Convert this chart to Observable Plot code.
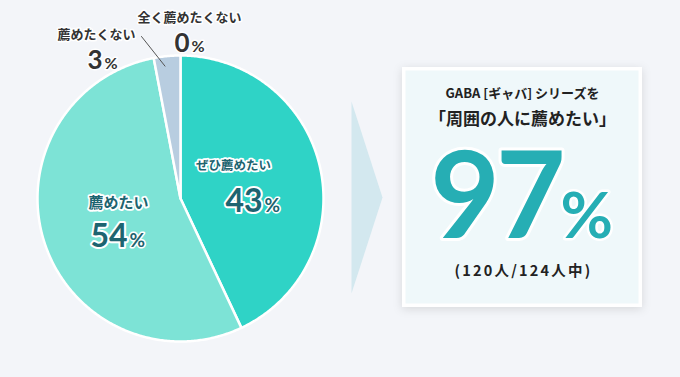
<!DOCTYPE html>
<html><head><meta charset="utf-8">
<script src="https://cdn.jsdelivr.net/npm/d3@7"></script>
<script src="https://cdn.jsdelivr.net/npm/@observablehq/plot@0.6"></script>
<style>
html,body{margin:0;padding:0;background:#f3f5f9;}
#chart svg{display:block;}
.spaced text{letter-spacing:2.2px;}
.tight text{letter-spacing:-4px;}
</style></head><body><div id="chart"></div>
<script>
// ---- data ----
const categories = ["ぜひ薦めたい", "薦めたい", "薦めたくない", "全く薦めたくない"];
const values = [43, 54, 3, 0];
const summaryLead = "GABA [ギャバ] シリーズを";
const summaryTitle = "「周囲の人に薦めたい」";
const summaryValue = 97;
const recommenders = 120;
const respondents = 124;

// ---- layout / style ----
const W = 680, H = 377;
const cx = 180, cy = 198, R = 143;
const sliceColors = ["#2fd3c6", "#7de3d6", "#b8cde0", "#b8cde0"];
const labelLayout = [
  {nx: 233, ny: 165, fs: 12.5, px: 262, py: 211, inside: true},
  {nx: 118, ny: 203, fs: 15,   px: 127, py: 246, inside: true},
  {nx: 96,  ny: 34,  fs: 13,   px: 102, py: 68,  inside: false},
  {nx: 189, ny: 17,  fs: 13,   px: 189, py: 51,  inside: false}
];
const numFont = "Lato, 'Noto Sans', sans-serif";
const jpFont = "'Noto Sans CJK JP', sans-serif";

const arcs = d3.pie().sort(null).value(d => d)(values);
const slicePts = [];
arcs.forEach((a, i) => {
  if (a.endAngle - a.startAngle <= 0) return;
  slicePts.push({i, x: cx, y: cy});
  const n = Math.max(2, Math.ceil((a.endAngle - a.startAngle) / 0.01));
  for (let k = 0; k <= n; k++) {
    const t = a.startAngle + (a.endAngle - a.startAngle) * k / n;
    slicePts.push({i, x: cx + R * Math.sin(t), y: cy - R * Math.cos(t)});
  }
  slicePts.push({i, x: cx, y: cy});
});

const labels = categories.map((c, i) => ({
  name: c, value: values[i], ...labelLayout[i],
  col: labelLayout[i].inside ? "#1d6470" : "#333333"
}));

const small = arcs[2];
const mid = (small.startAngle + small.endAngle) / 2;
const leader = [
  {x: cx + 0.93 * R * Math.sin(mid) - 3, y: cy - 0.93 * R * Math.cos(mid)},
  {x: 141, y: 36}
];

const box = {x1: 402, y1: 67, x2: 642, y2: 307};
const arrow = [{x: 351, y: 101}, {x: 382, y: 197}, {x: 351, y: 293}, {x: 351, y: 101}];

const marks = [
  Plot.line(arrow, {x: "x", y: "y", fill: "#d3e8ef", stroke: "none"}),
  Plot.rect([box], {x1: "x1", x2: "x2", y1: "y1", y2: "y2", fill: "#ffffff", className: "shadowbox"}),
  Plot.rect([box], {x1: d => d.x1 + 3.5, x2: d => d.x2 - 3.5, y1: d => d.y1 + 3.5, y2: d => d.y2 - 3.5, fill: "#eff8fa"}),
];
arcs.forEach((a, i) => {
  const pts = slicePts.filter(p => p.i === i);
  if (pts.length) marks.push(Plot.line(pts, {x: "x", y: "y", fill: sliceColors[i], stroke: "#ffffff", strokeWidth: 2.5, strokeLinejoin: "round"}));
});
marks.push(
  Plot.line(leader, {x: "x", y: "y", stroke: "#555", strokeWidth: 1}),
  Plot.text(labels.filter(d => d.inside), {x: "nx", y: "ny", text: "name", fill: "col", fontSize: "fs", fontWeight: 700, fontFamily: jpFont, stroke: "white", strokeWidth: 3.5}),
  Plot.text(labels.filter(d => !d.inside), {x: "nx", y: "ny", text: "name", fill: "col", fontSize: "fs", fontWeight: 700, fontFamily: jpFont, stroke: "white", strokeWidth: 3}),
  Plot.text(labels.filter(d => d.inside), {x: "px", y: "py", text: d => String(d.value), textAnchor: "end", lineAnchor: "bottom", fill: "col", fontSize: 32, fontWeight: 700, fontFamily: numFont, stroke: "white", strokeWidth: 4}),
  Plot.text(labels.filter(d => d.inside), {x: d => d.px + 2, y: "py", text: d => "%", textAnchor: "start", lineAnchor: "bottom", fill: "col", fontSize: 19, fontWeight: 700, fontFamily: numFont, stroke: "white", strokeWidth: 3}),
  Plot.text(labels.filter(d => !d.inside), {x: "px", y: "py", text: d => String(d.value), textAnchor: "end", lineAnchor: "bottom", fill: "col", fontSize: 26, fontWeight: 700, fontFamily: numFont, stroke: "white", strokeWidth: 3}),
  Plot.text(labels.filter(d => !d.inside), {x: d => d.px + 2, y: "py", text: d => "%", textAnchor: "start", lineAnchor: "bottom", fill: "col", fontSize: 16, fontWeight: 700, fontFamily: numFont, stroke: "white", strokeWidth: 3}),
  Plot.text([summaryLead], {x: 522, y: 93, text: d => d, fill: "#222", fontSize: 13, fontWeight: 600, fontFamily: jpFont}),
  Plot.text([summaryTitle], {x: 522, y: 119, text: d => d, fill: "#222", fontSize: 17, fontWeight: 700, fontFamily: jpFont}),
  Plot.text([summaryValue], {x: 561, y: 237, text: d => String(d), textAnchor: "end", lineAnchor: "bottom", fill: "#26aeb4", fontSize: 120, fontWeight: 700, fontFamily: numFont, stroke: "white", strokeWidth: 6, className: "tight"}),
  Plot.text([summaryValue], {x: 560, y: 237, text: d => "%", textAnchor: "start", lineAnchor: "bottom", fill: "#26aeb4", fontSize: 64, fontWeight: 700, fontFamily: numFont, stroke: "white", strokeWidth: 5}),
  Plot.text([[recommenders, respondents]], {x: 523, y: 271, text: d => `(${d[0]}人/${d[1]}人中)`, fill: "#222", fontSize: 14.5, fontWeight: 700, fontFamily: jpFont, className: "spaced"})
);

const chart = Plot.plot({
  width: W, height: H,
  margin: 0,
  x: {domain: [0, W], range: [0, W], axis: null},
  y: {domain: [0, H], range: [0, H], axis: null},
  style: {background: "#f3f5f9", overflow: "visible"},
  marks
});
const defs = d3.select(chart).insert("defs", ":first-child");
const f = defs.append("filter").attr("id", "shadow").attr("x", "-20%").attr("y", "-20%").attr("width", "140%").attr("height", "140%");
f.append("feDropShadow").attr("dx", 0).attr("dy", 2).attr("stdDeviation", 5).attr("flood-color", "#000").attr("flood-opacity", 0.12);
d3.select(chart).selectAll("g.shadowbox").attr("filter", "url(#shadow)");
document.getElementById("chart").appendChild(chart);
</script></body></html>
